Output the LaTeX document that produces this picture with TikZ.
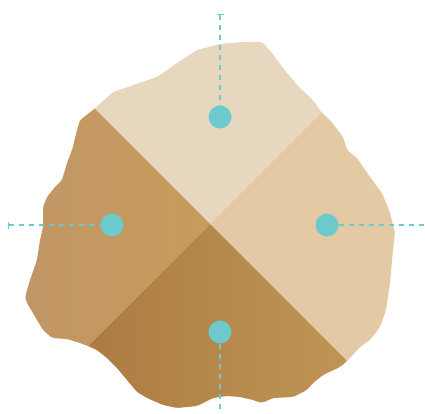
\documentclass[tikz,border=0pt]{standalone}
\usetikzlibrary{arrows.meta}

\definecolor{topclr}{HTML}{E8D7BF}
\definecolor{rightclr}{HTML}{E3CAA5}
\definecolor{leftA}{HTML}{BF9469}
\definecolor{leftB}{HTML}{C69C5C}
\definecolor{bottomA}{HTML}{A8733C}
\definecolor{bottomB}{HTML}{C39B5A}
\definecolor{teal}{HTML}{6CC9CC}

\tikzset{
    dot/.style={circle, fill=teal, inner sep=0pt, minimum size=23pt},
    guide/.style={teal, line width=1.4pt, dash pattern=on 5pt off 5pt}
}

\begin{document}
\begin{tikzpicture}[x=1pt, y=-1pt]
    \useasboundingbox (0,0) rectangle (425,414);
    \coordinate (C) at (210,224);

    % Rock outline
    \begin{scope}
        \clip[rounded corners=2pt] (93,110) -- (113,92) -- (157,77) -- (177,63) -- (197,50)
            -- (220,44) -- (243,42) -- (262,42) -- (265,45) -- (272,53) -- (277,60)
            -- (287,73) -- (300,88) -- (313,100) -- (322,113) -- (330,120) -- (343,137)
            -- (347,150) -- (357,158) -- (370,177) -- (382,193) -- (387,205) -- (390,213)
            -- (395,233) -- (393,250) -- (390,283) -- (386,310) -- (380,327) -- (370,340)
            -- (360,347) -- (350,358) -- (346,362) -- (340,367) -- (323,375) -- (313,383)
            -- (307,390) -- (293,397) -- (273,398) -- (262,403) -- (253,400) -- (240,397)
            -- (227,396) -- (213,398) -- (197,406) -- (177,408) -- (163,405) -- (147,398)
            -- (137,392) -- (127,380) -- (117,368) -- (107,358) -- (97,350) -- (88,346)
            -- (80,343) -- (67,339) -- (52,338) -- (43,330) -- (37,320) -- (27,303)
            -- (25,297) -- (30,280) -- (37,260) -- (40,240) -- (43,227) -- (43,207)
            -- (47,197) -- (55,187) -- (62,180) -- (67,163) -- (72,150) -- (77,130)
            -- (80,120) -- cycle;

        % Quadrants
        \fill[topclr] (C) -- ++(-250,-250) -- ++(500,0) -- cycle;
        \fill[rightclr] (C) -- ++(250,-250) -- ++(0,500) -- cycle;
        \shade[left color=leftA, right color=leftB] (C) -- ++(-250,-250) -- ++(0,500) -- cycle;
        \shade[left color=bottomA, right color=bottomB] (C) -- ++(-200,200) -- ++(400,0) -- cycle;
    \end{scope}

    % Markers
    \node[dot] (north) at (220,117) {};
    \node[dot] (west) at (112,225) {};
    \node[dot] (east) at (327,225) {};
    \node[dot] (south) at (220,332) {};

    % Guide lines
    \coordinate (northend) at (220,14);
    \coordinate (westend) at (8,225);
    \coordinate (eastend) at (425,225);
    \coordinate (southend) at (220,414);
    \draw[guide, {Bar[width=7pt, line width=1.2pt]}-] (northend) -- (north);
    \draw[guide, {Bar[width=7pt, line width=1.2pt]}-] (westend) -- (west);
    \draw[guide] (east) -- (eastend);
    \draw[guide] (south) -- (southend);
\end{tikzpicture}
\end{document}
